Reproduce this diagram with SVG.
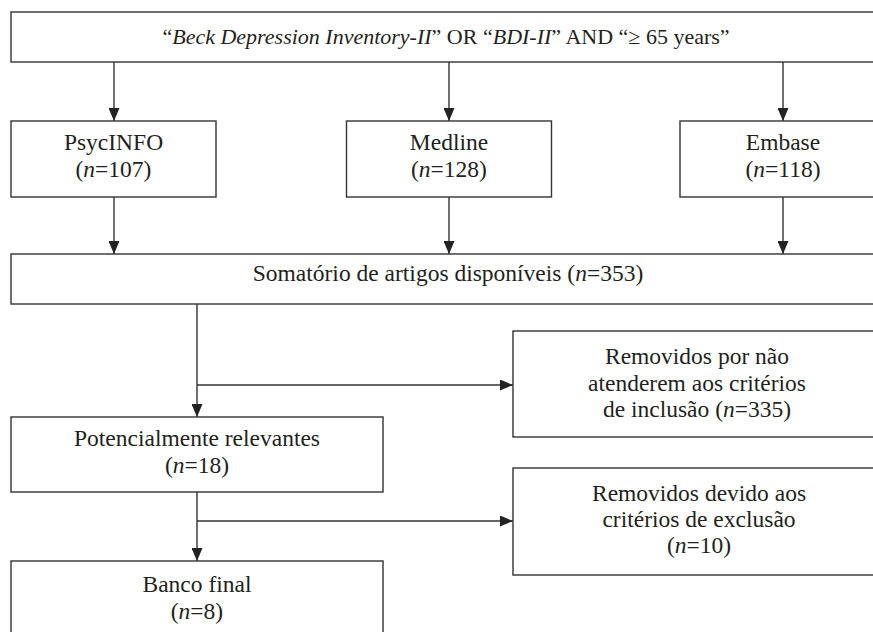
<svg xmlns="http://www.w3.org/2000/svg" width="873" height="632" viewBox="0 0 873 632">
  <style>
    .box { fill: #ffffff; stroke: #333333; stroke-width: 1.4; }
    .conn { fill: none; stroke: #333333; stroke-width: 1.4; }
    text { font-family: "Liberation Serif", "Times New Roman", serif; font-size: 23.5px; fill: #231f20; text-anchor: middle; }
    .top { font-size: 22px; }
    .it { font-style: italic; }
  </style>
  <defs>
    <marker id="arr" markerUnits="userSpaceOnUse" markerWidth="13" markerHeight="11" viewBox="0 0 13 11" refX="13" refY="5.5" orient="auto">
      <path d="M0,0 L13,5.5 L0,11 z" fill="#222222"/>
    </marker>
  </defs>
  <rect width="873" height="632" fill="#ffffff"/>

  <g id="connectors">
    <line class="conn" x1="114" y1="62" x2="114" y2="121" marker-end="url(#arr)"/>
    <line class="conn" x1="449" y1="62" x2="449" y2="121" marker-end="url(#arr)"/>
    <line class="conn" x1="783" y1="62" x2="783" y2="121" marker-end="url(#arr)"/>
    <line class="conn" x1="114" y1="197" x2="114" y2="254" marker-end="url(#arr)"/>
    <line class="conn" x1="449" y1="197" x2="449" y2="254" marker-end="url(#arr)"/>
    <line class="conn" x1="783" y1="197" x2="783" y2="254" marker-end="url(#arr)"/>
    <line class="conn" x1="197" y1="304" x2="197" y2="417" marker-end="url(#arr)"/>
    <line class="conn" x1="197" y1="385" x2="513" y2="385" marker-end="url(#arr)"/>
    <line class="conn" x1="197" y1="492" x2="197" y2="561" marker-end="url(#arr)"/>
    <line class="conn" x1="197" y1="521" x2="513" y2="521" marker-end="url(#arr)"/>
  </g>

  <g id="query">
    <rect class="box" x="11" y="12" width="880" height="50"/>
    <text class="top" x="446" y="44">“<tspan class="it">Beck Depression Inventory-II</tspan>” OR “<tspan class="it">BDI-II</tspan>” AND “≥ 65 years”</text>
  </g>

  <g id="psycinfo">
    <rect class="box" x="11" y="121" width="205" height="76"/>
    <text x="113.5" y="150">PsycINFO</text>
    <text x="113.5" y="177">(<tspan class="it">n</tspan>=107)</text>
  </g>

  <g id="medline">
    <rect class="box" x="346.5" y="121" width="205" height="76"/>
    <text x="449" y="150">Medline</text>
    <text x="449" y="177">(<tspan class="it">n</tspan>=128)</text>
  </g>

  <g id="embase">
    <rect class="box" x="680" y="121" width="210" height="76"/>
    <text x="783" y="150">Embase</text>
    <text x="783" y="177">(<tspan class="it">n</tspan>=118)</text>
  </g>

  <g id="somatorio">
    <rect class="box" x="11" y="254" width="880" height="50"/>
    <text x="448" y="281">Somatório de artigos disponíveis (<tspan class="it">n</tspan>=353)</text>
  </g>

  <g id="removidos-inclusao">
    <rect class="box" x="513" y="331" width="370" height="106"/>
    <text x="697" y="364">Removidos por não</text>
    <text x="697" y="390.5">atenderem aos critérios</text>
    <text x="697" y="417">de inclusão (<tspan class="it">n</tspan>=335)</text>
  </g>

  <g id="potencialmente">
    <rect class="box" x="11" y="417" width="372" height="75"/>
    <text x="197" y="446">Potencialmente relevantes</text>
    <text x="197" y="473">(<tspan class="it">n</tspan>=18)</text>
  </g>

  <g id="removidos-exclusao">
    <rect class="box" x="513" y="468" width="370" height="107"/>
    <text x="699" y="500.5">Removidos devido aos</text>
    <text x="699" y="527">critérios de exclusão</text>
    <text x="699" y="553">(<tspan class="it">n</tspan>=10)</text>
  </g>

  <g id="banco-final">
    <rect class="box" x="11" y="561" width="372" height="80"/>
    <text x="197" y="592">Banco final</text>
    <text x="197" y="619">(<tspan class="it">n</tspan>=8)</text>
  </g>
</svg>
